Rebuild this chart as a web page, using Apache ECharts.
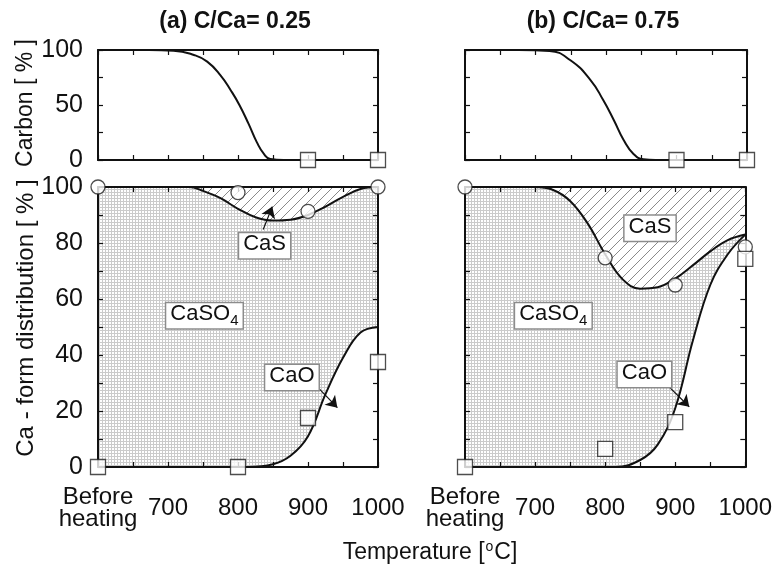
<!DOCTYPE html>
<html><head><meta charset="utf-8">
<script src="https://cdn.jsdelivr.net/npm/echarts@6/dist/echarts.min.js"></script>
<style>html,body{margin:0;padding:0;background:#fff}#c{width:775px;height:570px}</style>
</head><body><div id="c"></div>
<script>
// ---------------- DATA ----------------
const xTickLabels = {600: 'Before\nheating', 700: '700', 800: '800', 900: '900', 1000: '1000'};
// Carbon remaining curves [temperature, %]
const carbonCurveA = [[673,100],[708,99.4],[737,95.5],[756,89.4],[775,77],[790,63],[802,50],[815,33],[827,16],[837,5.5],[846,1],[865,0],[900,0]];
const carbonCurveB = [[676,100],[720,99],[749,90.9],[778,72.7],[796,54.5],[811,36.4],[825,18.2],[839,5.5],[853,0.6],[870,0],[900,0]];
const carbonPtX = [900, 1000];
const carbonPtA = [0, 0];
const carbonPtB = [0, 0];
// Ca-form distribution: boundary CaSO4/CaS and CaO/CaSO4 curves
const casBoundA = [[600,100],[730,100],[750,98.6],[775,96],[800,92.2],[825,89.2],[850,88],[875,88.3],[900,90],[925,93],[950,96.5],[975,99.3],[1000,100]];
const caoCurveA = [[600,0],[815,0],[850,1],[875,4],[900,11],[925,26],[950,39],[975,48],[1000,50]];
const casBoundB = [[600,100],[700,100],[725,99],[750,95],[775,87],[800,76],[825,67],[850,63.7],[875,64.2],[900,67.3],[925,72],[950,77],[975,81],[1000,83]];
const caoCurveB = [[600,0],[815,0],[850,2.5],[875,8],[900,21],[925,45],[950,65],[975,76],[1000,83]];
const ptX = [600, 800, 900, 1000];
const circA = [100, 98, 91.3, 100];
const sqA = [0, 0, 17.5, 37.5];
const circB = [100, 74.7, 65, 78.6];
const sqB = [0, 6.5, 16, 74.3];
const topLine = [[600,100],[1000,100]];

// ---------------- LAYOUT / ANNOTATIONS ----------------
const annA = [{t:'{a|CaS}', x:838, y:79}, {t:'{a|CaSO}{s|4}', x:752, y:54}, {t:'{a|CaO}', x:877, y:32}];
const annB = [{t:'{a|CaS}', x:864, y:85.3}, {t:'{a|CaSO}{s|4}', x:726, y:54}, {t:'{a|CaO}', x:856, y:33}];
const arrowsA = [[[836,84.8],[849,93]], [[913,28.7],[942,21.2]]];
const arrowsB = [[[888,29.4],[920,21.5]]];

const FONT = 'Liberation Sans, Arial, sans-serif';
const BLACK = '#111';

function makeDots(){
  const c = document.createElement('canvas'); c.width = 3; c.height = 3;
  const g = c.getContext('2d');
  g.fillStyle = '#fff'; g.fillRect(0,0,3,3);
  g.fillStyle = '#cbcbcb'; g.fillRect(0,0,3,1); g.fillRect(0,0,1,3);
  return c;
}
function makeHatch(){
  const s = 10;
  const c = document.createElement('canvas'); c.width = s; c.height = s;
  const g = c.getContext('2d');
  g.fillStyle = '#fff'; g.fillRect(0,0,s,s);
  g.strokeStyle = '#8a8a8a'; g.lineWidth = 1;
  g.beginPath();
  g.moveTo(0,s); g.lineTo(s,0);
  g.moveTo(-1,1); g.lineTo(1,-1);
  g.moveTo(s-1,s+1); g.lineTo(s+1,s-1);
  g.stroke();
  return c;
}
const dots = {image: makeDots(), repeat: 'repeat'};
const hatch = {image: makeHatch(), repeat: 'repeat'};

const grids = [
  {left: 98, top: 50, width: 280, height: 110},
  {left: 465, top: 50, width: 282, height: 110},
  {left: 98, top: 187, width: 280, height: 280},
  {left: 465, top: 187, width: 282, height: 280}
];

const xAxes = [], yAxes = [];
grids.forEach((g, gi) => {
  const carbon = gi < 2;
  const leftPanel = gi % 2 === 0;
  const common = {
    gridIndex: gi, type: 'value', min: 600, max: 1000, interval: 50, z: 10,
    splitLine: {show: false},
    axisLine: {show: true, onZero: false, lineStyle: {color: BLACK, width: 2}},
    axisTick: {show: true, inside: true, length: 5, lineStyle: {color: BLACK, width: 1.2}}
  };
  xAxes.push(Object.assign({}, common, {
    position: 'bottom',
    axisLabel: {
      show: !carbon, margin: 41, verticalAlign: 'middle', fontSize: 24, fontFamily: FONT, color: BLACK,
      lineHeight: 22, hideOverlap: false,
      formatter: v => (xTickLabels[v] !== undefined ? xTickLabels[v] : '')
    }
  }));
  xAxes.push(Object.assign({}, common, {position: 'top', axisLabel: {show: false}}));
  const yc = {
    gridIndex: gi, type: 'value', min: 0, max: 100, interval: carbon ? 25 : 10, z: 10,
    splitLine: {show: false},
    axisLine: {show: true, onZero: false, lineStyle: {color: BLACK, width: 2}},
    axisTick: {show: true, inside: true, length: 5, lineStyle: {color: BLACK, width: 1.2}}
  };
  yAxes.push(Object.assign({}, yc, {
    position: 'left',
    axisLabel: {
      show: leftPanel, margin: 15, fontSize: 25, fontFamily: FONT, color: BLACK,
      formatter: v => (v % (carbon ? 50 : 20) === 0 ? String(v) : '')
    }
  }));
  yAxes.push(Object.assign({}, yc, {position: 'right', axisLabel: {show: false}}));
});

const ax = gi => ({xAxisIndex: gi * 2, yAxisIndex: gi * 2});
const lineStyle = {color: BLACK, width: 2};
const zip = (xs, ys) => xs.map((x, i) => [x, ys[i]]);

function circles(gi, ys){
  return Object.assign({type: 'scatter', data: zip(ptX, ys), symbol: 'circle', symbolSize: 14, clip: false, z: 20,
    itemStyle: {color: '#fff', borderColor: '#222', borderWidth: 1.3}}, ax(gi));
}
function squares(gi, xs, ys){
  return Object.assign({type: 'scatter', data: zip(xs, ys), symbol: 'rect', symbolSize: 15, clip: false, z: 20,
    itemStyle: {color: '#fff', borderColor: '#222', borderWidth: 1.3}}, ax(gi));
}
function arrowLine(arrs){
  return {silent: true, animation: false, symbol: ['none', 'arrow'], symbolSize: 11,
    lineStyle: {color: BLACK, width: 1.2, type: 'solid'}, label: {show: false},
    data: arrs.map(a => [{coord: a[0]}, {coord: a[1]}])};
}

const series = [];
// Carbon panels
series.push(Object.assign({type: 'line', data: carbonCurveA, smooth: 0.5, showSymbol: false, lineStyle, z: 5}, ax(0)));
series.push(squares(0, carbonPtX, carbonPtA));
series.push(Object.assign({type: 'line', data: carbonCurveB, smooth: 0.5, showSymbol: false, lineStyle, z: 5}, ax(1)));
series.push(squares(1, carbonPtX, carbonPtB));
// Ca-form panels
[[2, casBoundA, caoCurveA, circA, sqA, arrowsA], [3, casBoundB, caoCurveB, circB, sqB, arrowsB]].forEach(([gi, cas, cao, ci, sq, arr]) => {
  series.push(Object.assign({type: 'line', data: topLine, showSymbol: false, lineStyle: {width: 0},
    areaStyle: {color: hatch, opacity: 1}, z: 1}, ax(gi)));
  series.push(Object.assign({type: 'line', data: cas, smooth: 0.4, showSymbol: false, lineStyle,
    areaStyle: {color: dots, opacity: 1}, z: 2}, ax(gi)));
  series.push(Object.assign({type: 'line', data: cao, smooth: 0.4, showSymbol: false, lineStyle,
    areaStyle: {color: '#fff', opacity: 1}, z: 3, markLine: arrowLine(arr)}, ax(gi)));
  series.push(circles(gi, ci));
  series.push(squares(gi, ptX, sq));
});

const chart = echarts.init(document.getElementById('c'), null, {renderer: 'canvas'});
chart.setOption({
  animation: false,
  grid: grids,
  xAxis: xAxes,
  yAxis: yAxes,
  series: series
});

// text annotations
const boxStyle = {
  fill: BLACK, align: 'center', verticalAlign: 'middle', backgroundColor: '#fff',
  borderColor: '#8c8c8c', borderWidth: 1.5, padding: [1, 4, 0, 4],
  rich: {
    a: {fontSize: 22, fontFamily: FONT, fill: BLACK, verticalAlign: 'bottom', lineHeight: 24, padding: [0, 0, 3, 0]},
    s: {fontSize: 15, fontFamily: FONT, fill: BLACK, verticalAlign: 'bottom', lineHeight: 15}
  }
};
const graphics = [];
[[2, annA], [3, annB]].forEach(([gi, list]) => {
  list.forEach(a => {
    const p = chart.convertToPixel({gridIndex: gi}, [a.x, a.y]);
    graphics.push({type: 'text', x: p[0], y: p[1], z: 30, style: Object.assign({text: a.t}, boxStyle)});
  });
});
graphics.push({type: 'text', x: 235, y: 22, style: {text: '(a) C/Ca= 0.25', fontSize: 23, fontWeight: 'bold', fontFamily: FONT, fill: BLACK, align: 'center', verticalAlign: 'middle'}});
graphics.push({type: 'text', x: 603, y: 22, style: {text: '(b) C/Ca= 0.75', fontSize: 23, fontWeight: 'bold', fontFamily: FONT, fill: BLACK, align: 'center', verticalAlign: 'middle'}});
graphics.push({type: 'text', x: 26, y: 103, rotation: Math.PI / 2, style: {text: 'Carbon [ % ]', fontSize: 23, fontFamily: FONT, fill: BLACK, align: 'center', verticalAlign: 'middle'}});
graphics.push({type: 'text', x: 26, y: 318, rotation: Math.PI / 2, style: {text: 'Ca - form distribution [ % ]', fontSize: 24, fontFamily: FONT, fill: BLACK, align: 'center', verticalAlign: 'middle'}});
graphics.push({type: 'text', x: 430, y: 553, style: {
  text: '{a|Temperature [}{s|o}{a|C]}', align: 'center', verticalAlign: 'middle',
  rich: {a: {fontSize: 23, fontFamily: FONT, fill: BLACK}, s: {fontSize: 14, fontFamily: FONT, fill: BLACK, padding: [0, 1, 11, 1]}}
}});
chart.setOption({graphic: graphics});
</script>
</body></html>
